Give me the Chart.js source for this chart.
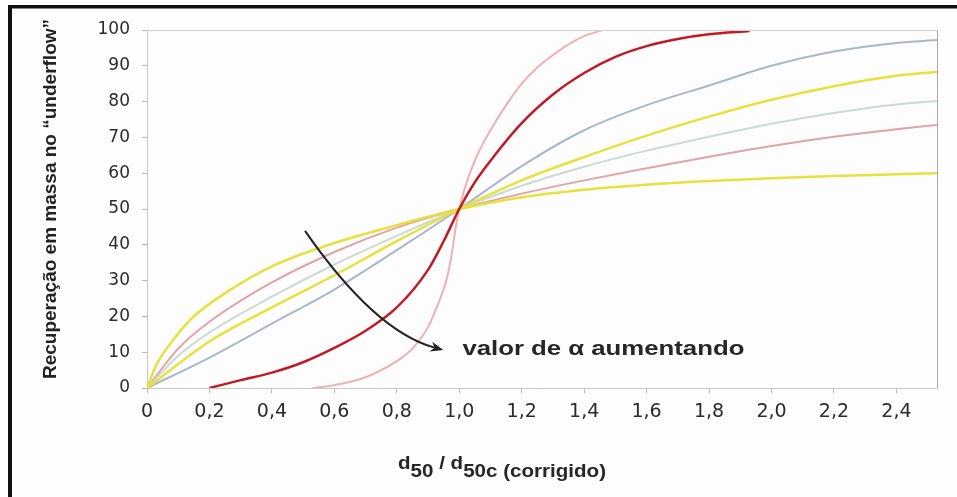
<!DOCTYPE html>
<html lang="pt">
<head>
<meta charset="utf-8">
<title>Curvas de partição</title>
<script src="https://cdn.jsdelivr.net/npm/chart.js@4.4.1/dist/chart.umd.min.js"></script>
<style>
  html, body { margin: 0; padding: 0; background: #fff; }
  canvas { display: block; }
</style>
</head>
<body>
<canvas id="chart" width="957" height="497"></canvas>
<script>
// Eixos
const X_TICKS = [0, 0.2, 0.4, 0.6, 0.8, 1.0, 1.2, 1.4, 1.6, 1.8, 2.0, 2.2, 2.4];
const X_TICK_LABELS = ['0', '0,2', '0,4', '0,6', '0,8', '1,0', '1,2', '1,4', '1,6', '1,8', '2,0', '2,2', '2,4'];
const Y_TICKS = [0, 10, 20, 30, 40, 50, 60, 70, 80, 90, 100];

// Curvas (x = d50/d50c, y = recuperação %)
const redX = [0.2, 0.3, 0.4, 0.5, 0.6, 0.7, 0.8, 0.9, 0.95, 1.0, 1.05, 1.1, 1.2, 1.3, 1.4, 1.5, 1.6, 1.7, 1.8, 1.93];
const redY = [0, 2.2, 4.3, 7.2, 11.2, 16, 22.5, 33, 41, 50, 57.5, 63.5, 74, 82, 88, 92.5, 95.5, 97.5, 98.8, 99.7];

const steepX = [0.53, 0.6, 0.7, 0.8, 0.85, 0.9, 0.93, 0.96, 0.975, 0.99, 1.0, 1.015, 1.03, 1.06, 1.1, 1.15, 1.2, 1.25, 1.3, 1.35, 1.4, 1.46];
const steepY = [0, 0.8, 3, 7.5, 11, 17, 23, 30.5, 37, 45.5, 50, 55, 59, 65.5, 72, 79, 85, 89.5, 93, 96, 98.3, 100];

const blueX = [0, 0.2, 0.4, 0.6, 0.8, 1.0, 1.2, 1.4, 1.6, 1.8, 2.0, 2.2, 2.4, 2.53];
const blueY = [0, 8.5, 18, 27.5, 38.5, 50, 62, 72, 79, 84.5, 90, 94, 96.4, 97.2];

const yellow2X = [0, 0.2, 0.4, 0.6, 0.8, 1.0, 1.2, 1.4, 1.6, 1.8, 2.0, 2.2, 2.4, 2.53];
const yellow2Y = [0, 13, 22.5, 31.5, 41, 50, 58, 64.5, 70.5, 75.8, 80.5, 84.3, 87.2, 88.3];

const greenX = [0, 0.1, 0.2, 0.4, 0.6, 0.8, 1.0, 1.2, 1.4, 1.6, 1.8, 2.0, 2.2, 2.4, 2.53];
const greenY = [0, 9, 15.5, 25.5, 34.5, 42.5, 50, 56.5, 61.8, 66.3, 70.2, 73.8, 76.8, 79.2, 80.2];

const pinkX = [0, 0.1, 0.2, 0.4, 0.6, 0.8, 1.0, 1.2, 1.4, 1.6, 1.8, 2.0, 2.2, 2.4, 2.53];
const pinkY = [0, 11, 18.5, 29.5, 38, 44.8, 50, 54.3, 58, 61.4, 64.6, 67.6, 70.2, 72.3, 73.5];

const yellowX = [0, 0.03, 0.08, 0.15, 0.25, 0.4, 0.6, 0.8, 1.0, 1.2, 1.4, 1.6, 1.8, 2.0, 2.2, 2.4, 2.53];
const yellowY = [0, 6.5, 13, 20, 26.5, 34, 40.5, 45.5, 50, 53.3, 55.4, 56.8, 57.8, 58.6, 59.2, 59.7, 60];

// Anotação (coordenadas de dados)
const ARROW = { from: [0.506, 43.9], ctrl: [0.729, 15.9], to: [0.949, 10.6] };
const NOTE = { x: 1.01, y: 9.2, text: 'valor de α aumentando', width: 282 };

const toPoints = (xs, ys) => xs.map((x, i) => ({ x, y: ys[i] }));

const line = (xs, ys, color, width) => ({
    data: toPoints(xs, ys),
    borderColor: color,
    borderWidth: width,
    pointRadius: 0,
    fill: false,
    cubicInterpolationMode: 'monotone'
});

// primeiro dataset fica por cima
const datasets = [
    line(redX, redY, '#c21a24', 2.5),
    line(yellowX, yellowY, '#e8e03c', 2.5),
    line(yellow2X, yellow2Y, '#e8e03c', 2.5),
    line(blueX, blueY, '#a9b7cb', 2),
    line(greenX, greenY, '#c8dcd1', 2),
    line(pinkX, pinkY, '#e2a3a7', 2),
    line(steepX, steepY, '#eeb1b1', 2)
];

const decor = {
    id: 'decor',
    beforeDraw(chart) {
        const ctx = chart.ctx;
        ctx.save();
        ctx.fillStyle = '#fdfdfd';
        ctx.fillRect(8, 5, chart.width - 8, chart.height - 5);
        ctx.restore();
    },
    afterDraw(chart) {
        const { ctx, chartArea: a, scales } = chart;
        const px = (p) => [scales.x.getPixelForValue(p[0]), scales.y.getPixelForValue(p[1])];
        ctx.save();

        // caixa do gráfico (topo e direita)
        ctx.lineWidth = 1;
        ctx.strokeStyle = '#d2d2d2';
        ctx.beginPath();
        ctx.moveTo(a.left, a.top + 0.5);
        ctx.lineTo(a.right, a.top + 0.5);
        ctx.stroke();
        ctx.strokeStyle = '#a8a8a8';
        ctx.beginPath();
        ctx.moveTo(a.right + 0.5, a.top);
        ctx.lineTo(a.right + 0.5, a.bottom);
        ctx.stroke();

        // seta
        const [x0, y0] = px(ARROW.from);
        const [cx, cy] = px(ARROW.ctrl);
        const [x1, y1] = px(ARROW.to);
        const dx = x1 - cx, dy = y1 - cy;
        const len = Math.hypot(dx, dy);
        const ux = dx / len, uy = dy / len;
        const head = 13, half = 5;
        ctx.strokeStyle = '#222';
        ctx.fillStyle = '#222';
        ctx.lineWidth = 2;
        ctx.beginPath();
        ctx.moveTo(x0, y0);
        ctx.quadraticCurveTo(cx, cy, x1 - ux * head * 0.7, y1 - uy * head * 0.7);
        ctx.stroke();
        ctx.beginPath();
        ctx.moveTo(x1, y1);
        ctx.lineTo(x1 - ux * head - uy * half, y1 - uy * head + ux * half);
        ctx.lineTo(x1 - ux * head * 0.7, y1 - uy * head * 0.7);
        ctx.lineTo(x1 - ux * head + uy * half, y1 - uy * head - ux * half);
        ctx.closePath();
        ctx.fill();

        // texto da anotação
        const [tx, ty] = px([NOTE.x, NOTE.y]);
        ctx.font = 'bold 20px "Liberation Sans", Arial, sans-serif';
        ctx.fillStyle = '#262626';
        ctx.textBaseline = 'alphabetic';
        ctx.textAlign = 'left';
        const sx = NOTE.width / ctx.measureText(NOTE.text).width;
        ctx.save();
        ctx.translate(tx, ty);
        ctx.scale(sx, 1);
        ctx.fillText(NOTE.text, 0, 0);
        ctx.restore();

        // título do eixo y
        ctx.save();
        ctx.translate(56, 199);
        ctx.rotate(-Math.PI / 2);
        ctx.font = 'bold 19px "Liberation Sans", Arial, sans-serif';
        ctx.textAlign = 'center';
        ctx.fillStyle = '#222';
        ctx.fillText('Recuperação em massa no “underflow”', 0, 0);
        ctx.restore();

        // título do eixo x, com subscritos
        const parts = [['d', -8], ['50', 0], [' / d', -8], ['50c (corrigido)', 0]];
        ctx.font = 'bold 18px "Liberation Sans", Arial, sans-serif';
        const total = parts.reduce((s, p) => s + ctx.measureText(p[0]).width, 0);
        const k = 208 / total;
        ctx.save();
        ctx.translate(398, 477);
        ctx.scale(k, 1);
        let off = 0;
        parts.forEach(([t, dy]) => {
            ctx.fillText(t, off, dy);
            off += ctx.measureText(t).width;
        });
        ctx.restore();

        // moldura preta
        ctx.fillStyle = '#111';
        ctx.fillRect(8, 5, chart.width - 8, 3.5);
        ctx.fillRect(8, 5, 4, chart.height - 5);
        ctx.restore();
    }
};

const tickFont = { family: '"DejaVu Sans", sans-serif' };

new Chart(document.getElementById('chart'), {
    type: 'line',
    data: { datasets },
    options: {
        responsive: false,
        animation: false,
        events: [],
        layout: { padding: { top: 30, right: 20, left: 0, bottom: 0 } },
        plugins: {
            legend: { display: false },
            tooltip: { enabled: false }
        },
        scales: {
            x: {
                type: 'linear',
                min: 0,
                max: 2.53,
                afterBuildTicks: (s) => { s.ticks = X_TICKS.map(v => ({ value: v })); },
                afterFit: (s) => { s.height = 109; },
                ticks: {
                    autoSkip: false,
                    maxRotation: 0,
                    padding: 8,
                    color: '#2b2b2b',
                    font: { ...tickFont, size: 19 },
                    callback: (v) => X_TICK_LABELS[X_TICKS.findIndex(t => Math.abs(t - v) < 1e-6)]
                },
                grid: { drawOnChartArea: false, tickLength: 5, color: '#b8b8b8' },
                border: { color: '#c8c8c8' }
            },
            y: {
                min: 0,
                max: 100,
                afterBuildTicks: (s) => { s.ticks = Y_TICKS.map(v => ({ value: v })); },
                afterFit: (s) => { s.width = 147; },
                ticks: {
                    padding: 12,
                    color: '#2b2b2b',
                    font: { ...tickFont, size: 17 },
                    callback: (v) => String(v)
                },
                grid: { drawOnChartArea: false, tickLength: 5, color: '#b8b8b8' },
                border: { color: '#c4c4c4' }
            }
        }
    },
    plugins: [decor]
});
</script>
</body>
</html>
